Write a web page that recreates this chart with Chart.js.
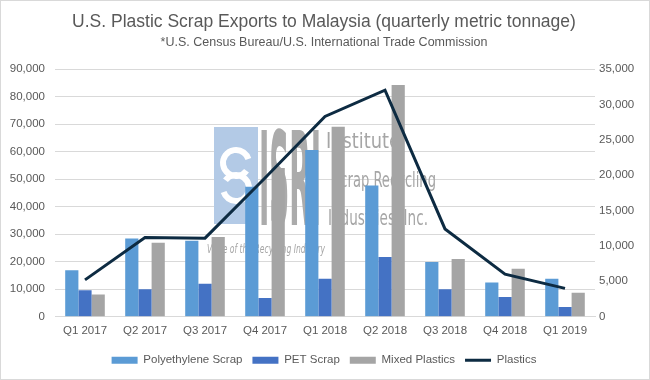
<!DOCTYPE html>
<html>
<head>
<meta charset="utf-8">
<script src="https://cdn.jsdelivr.net/npm/chart.js@4"></script>
<style>
  html, body { margin: 0; padding: 0; background: #fff; }
  #wrap { width: 650px; height: 380px; }
</style>
</head>
<body>
<div id="wrap"><canvas id="js--chart"></canvas></div>
<script>
// quarters on the x axis
const quarters = ['Q1 2017', 'Q2 2017', 'Q3 2017', 'Q4 2017', 'Q1 2018',
                  'Q2 2018', 'Q3 2018', 'Q4 2018', 'Q1 2019'];

// bars, left axis (metric tons)
const polyethylene = [16900, 28400, 27600, 47200, 60600, 47700, 19900, 12400, 13800];
const petScrap     = [9600, 10000, 12000, 6800, 13800, 21700, 10000, 7200, 3500];
const mixedPlastic = [8100, 26900, 29000, 54000, 69000, 84200, 21000, 17400, 8700];

// line, right axis
const plastics = [5200, 11200, 11100, 19600, 28300, 32000, 12400, 6000, 4000];

const leftTicks = { min: 0, max: 90000, step: 10000 };
const rightTicks = { min: 0, max: 35000, step: 5000 };

const grey = '#595959';
const tickFont = { family: "'Liberation Sans', Arial, sans-serif", size: 11.5 };
const narrow = "'Liberation Sans Narrow', 'DejaVu Sans Condensed', 'Liberation Sans', sans-serif";

// draws text squeezed to a given width
function fitText(ctx, txt, x, y, width) {
  const w = ctx.measureText(txt).width;
  ctx.save();
  ctx.translate(x, y);
  ctx.scale(width / w, 1);
  ctx.fillText(txt, 0, 0);
  ctx.restore();
}

// ISRI watermark behind the bars
const watermark = {
  id: 'watermark',
  beforeDatasetsDraw(chart) {
    const ctx = chart.ctx;
    ctx.save();
    // light blue square with the swirl
    ctx.fillStyle = '#b3cae6';
    ctx.fillRect(214, 127, 44, 97);
    ctx.strokeStyle = '#ffffff';
    ctx.lineWidth = 6;
    ctx.beginPath();
    ctx.arc(236, 163, 13, 0.2 * Math.PI, 1.9 * Math.PI);
    ctx.stroke();
    ctx.beginPath();
    ctx.arc(236, 188, 13, 1.2 * Math.PI, 0.9 * Math.PI);
    ctx.stroke();

    // big ISRI letters
    ctx.fillStyle = '#ababab';
    ctx.textBaseline = 'alphabetic';
    ctx.font = 'bold 130px ' + narrow;
    fitText(ctx, 'ISRI', 259, 225, 62);

    // name lines
    ctx.fillStyle = '#a6a6a6';
    ctx.font = '22px ' + narrow;
    fitText(ctx, 'Institute', 326, 148, 74);
    fitText(ctx, 'Scrap Recycling', 332, 187, 104);
    fitText(ctx, 'Industries, Inc.', 328, 225, 100);

    // slogan
    ctx.font = 'italic 13px ' + narrow;
    fitText(ctx, 'Voice of the Recycling Industry', 207, 253, 118);
    ctx.restore();
  },
  afterDraw(chart) {
    const ctx = chart.ctx;
    ctx.save();
    ctx.strokeStyle = '#d9d9d9';
    ctx.lineWidth = 1;
    ctx.strokeRect(0.5, 0.5, chart.width - 1, chart.height - 1);
    ctx.restore();
  }
};

const data = {
  labels: quarters,
  datasets: [
    {
      type: 'bar',
      label: 'Polyethylene Scrap',
      data: polyethylene,
      backgroundColor: '#5b9bd5',
      borderWidth: 0,
      pointStyle: 'rect',
      yAxisID: 'y',
      order: 1
    },
    {
      type: 'bar',
      label: 'PET Scrap',
      data: petScrap,
      backgroundColor: '#4472c4',
      borderWidth: 0,
      pointStyle: 'rect',
      yAxisID: 'y',
      order: 1
    },
    {
      type: 'bar',
      label: 'Mixed Plastics',
      data: mixedPlastic,
      backgroundColor: '#a5a5a5',
      borderWidth: 0,
      pointStyle: 'rect',
      yAxisID: 'y',
      order: 1
    },
    {
      type: 'line',
      label: 'Plastics',
      data: plastics,
      borderColor: '#0d2b42',
      backgroundColor: '#0d2b42',
      borderWidth: 3,
      pointRadius: 0,
      pointStyle: 'line',
      tension: 0,
      yAxisID: 'y2',
      order: 0
    }
  ]
};

const config = {
  type: 'bar',
  data: data,
  plugins: [watermark],
  options: {
    responsive: false,
    animation: false,
    devicePixelRatio: 1,
    layout: { padding: { left: 4, right: 6, top: 0, bottom: 4 } },
    datasets: {
      bar: { categoryPercentage: 0.66, barPercentage: 1.0 }
    },
    plugins: {
      title: {
        display: true,
        text: 'U.S. Plastic Scrap Exports to Malaysia (quarterly metric tonnage)',
        color: grey,
        font: { family: "'Liberation Sans', Arial, sans-serif", size: 17.5, weight: 'normal' },
        padding: { top: 12, bottom: 2 }
      },
      subtitle: {
        display: true,
        text: '*U.S. Census Bureau/U.S. International Trade Commission',
        color: grey,
        font: { family: "'Liberation Sans', Arial, sans-serif", size: 12.5 },
        padding: { bottom: 19 }
      },
      legend: {
        position: 'bottom',
        labels: {
          color: grey,
          font: tickFont,
          usePointStyle: true,
          pointStyleWidth: 26,
          boxHeight: 7,
          padding: 10,
          sort: function(a, b) { return a.datasetIndex - b.datasetIndex; }
        }
      },
      tooltip: { enabled: false }
    },
    scales: {
      x: {
        grid: { display: false, drawTicks: false },
        border: { color: '#d9d9d9' },
        ticks: { color: grey, font: tickFont, padding: 7, maxRotation: 0 }
      },
      y: {
        position: 'left',
        min: leftTicks.min,
        max: leftTicks.max,
        grid: { color: '#d9d9d9', drawTicks: false },
        border: { display: false },
        ticks: {
          stepSize: leftTicks.step,
          color: grey,
          font: tickFont,
          padding: 10,
          callback: function(v) { return v.toLocaleString('en-US'); }
        },
        afterFit: function(scale) { scale.width = 51; }
      },
      y2: {
        position: 'right',
        min: rightTicks.min,
        max: rightTicks.max,
        grid: { display: false, drawTicks: false },
        border: { display: false },
        ticks: {
          stepSize: rightTicks.step,
          color: grey,
          font: tickFont,
          padding: 4,
          callback: function(v) { return v.toLocaleString('en-US'); }
        },
        afterFit: function(scale) { scale.width = 49; }
      }
    }
  }
};

const canvas = document.getElementById('js--chart');
canvas.width = 650;
canvas.height = 380;
const chart = new Chart(canvas, config);
</script>
</body>
</html>
